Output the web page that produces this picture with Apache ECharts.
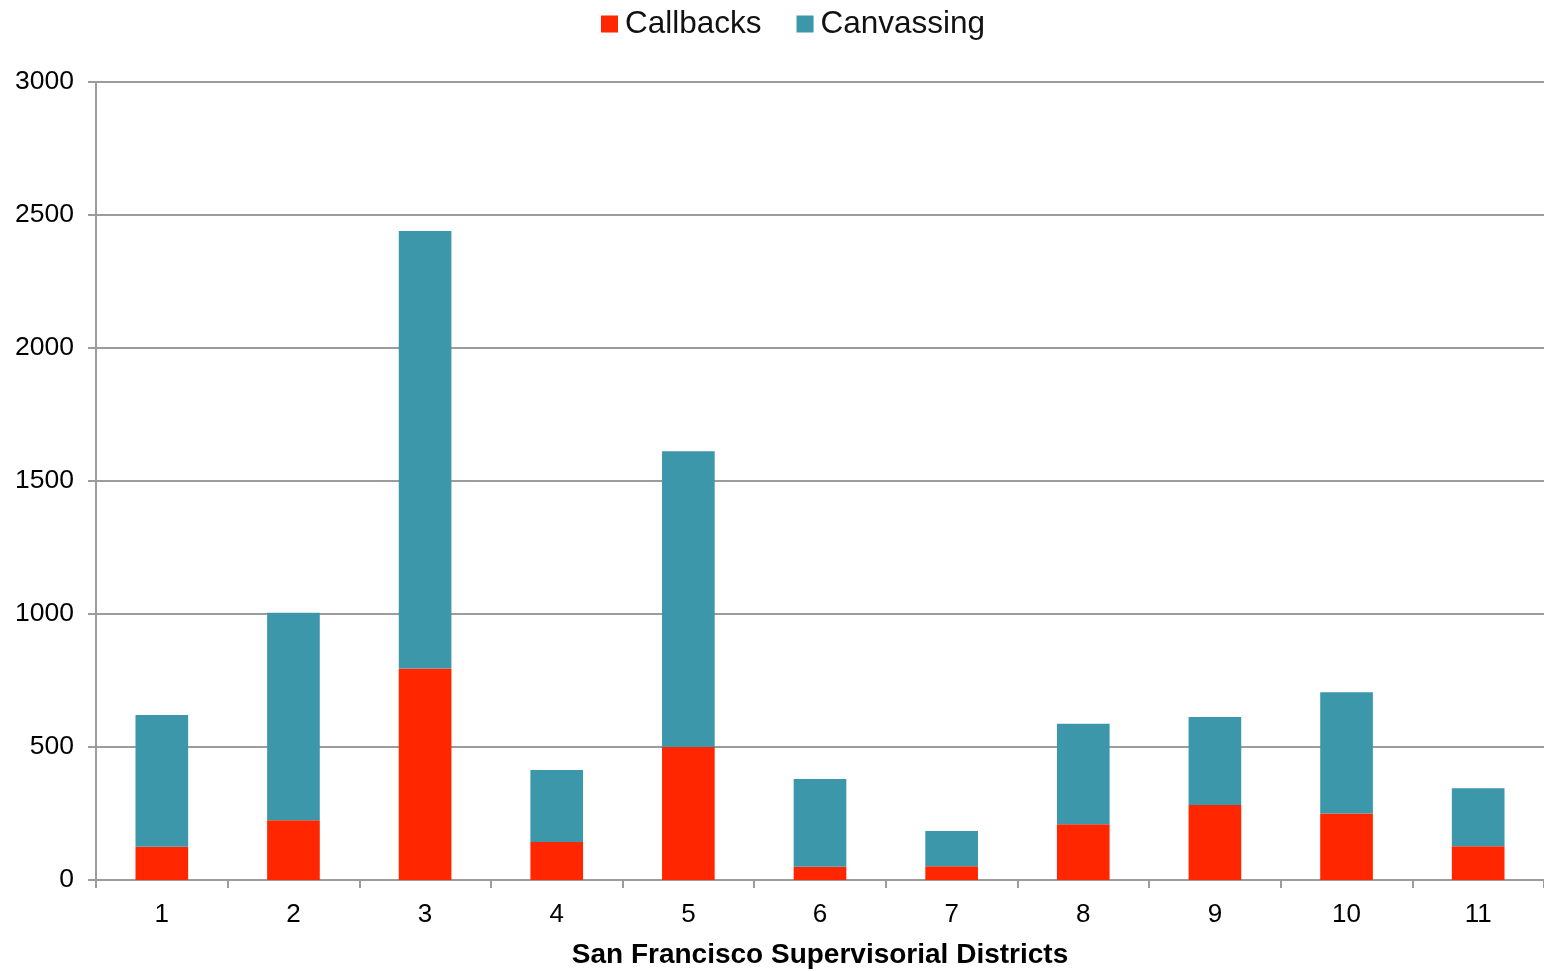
<!DOCTYPE html>
<html>
<head>
<meta charset="utf-8">
<style>
  html, body { margin: 0; padding: 0; background: #ffffff; }
  #chart { width: 1544px; height: 971px; }
</style>
<script src="https://cdn.jsdelivr.net/npm/echarts@6/dist/echarts.min.js"></script>
</head>
<body>
<div id="chart"></div>
<script>
// Outreach contacts per San Francisco supervisorial district
const districts = ['1', '2', '3', '4', '5', '6', '7', '8', '9', '10', '11'];
const callbacks = [125, 225, 795, 143, 500, 50, 52, 210, 282, 250, 127];
const canvassing = [495, 780, 1645, 271, 1112, 330, 132, 377, 331, 456, 218];
const yTicks = [0, 500, 1000, 1500, 2000, 2500, 3000];

const RED = '#ff2600';
const TEAL = '#3c97ab';
const AXIS_GREY = '#9c9c9c';
const FONT = '"Liberation Sans", Arial, Helvetica, sans-serif';

const chart = echarts.init(document.getElementById('chart'), null, { renderer: 'canvas' });

chart.setOption({
  animation: false,
  backgroundColor: '#ffffff',
  textStyle: { fontFamily: FONT, color: '#000' },
  legend: {
    top: 3,
    left: 596,
    itemWidth: 17,
    itemHeight: 17,
    itemGap: 35,
    icon: 'rect',
    textStyle: { fontFamily: FONT, fontSize: 31.5, color: '#111', padding: [0, 0, 0, 2] },
    data: ['Callbacks', 'Canvassing']
  },
  grid: { left: 96, right: 0, top: 82, bottom: 91, containLabel: false, outerBoundsMode: 'none' },
  xAxis: {
    type: 'category',
    data: districts,
    name: 'San Francisco Supervisorial Districts',
    nameLocation: 'middle',
    nameGap: 61,
    nameTextStyle: { fontFamily: FONT, fontSize: 28, fontWeight: 'bold', color: '#000' },
    axisLine: { show: true, lineStyle: { color: AXIS_GREY, width: 2 } },
    axisTick: { show: true, length: 8, alignWithLabel: false, lineStyle: { color: AXIS_GREY, width: 2 } },
    axisLabel: { fontFamily: FONT, fontSize: 26, color: '#000', margin: 22 },
    splitLine: { show: false }
  },
  yAxis: {
    type: 'value',
    min: yTicks[0],
    max: yTicks[yTicks.length - 1],
    interval: yTicks[1] - yTicks[0],
    axisLine: { show: true, lineStyle: { color: AXIS_GREY, width: 2 } },
    axisTick: { show: true, length: 8, lineStyle: { color: AXIS_GREY, width: 2 } },
    axisLabel: {
      fontFamily: FONT, fontSize: 26.5, color: '#000', margin: 22,
      formatter: (v) => String(v)
    },
    splitLine: { show: true, lineStyle: { color: AXIS_GREY, width: 2 } }
  },
  series: [
    {
      name: 'Callbacks',
      type: 'bar',
      stack: 'total',
      data: callbacks,
      barWidth: '40%',
      itemStyle: { color: RED }
    },
    {
      name: 'Canvassing',
      type: 'bar',
      stack: 'total',
      data: canvassing,
      barWidth: '40%',
      itemStyle: { color: TEAL }
    }
  ]
});
</script>
</body>
</html>
